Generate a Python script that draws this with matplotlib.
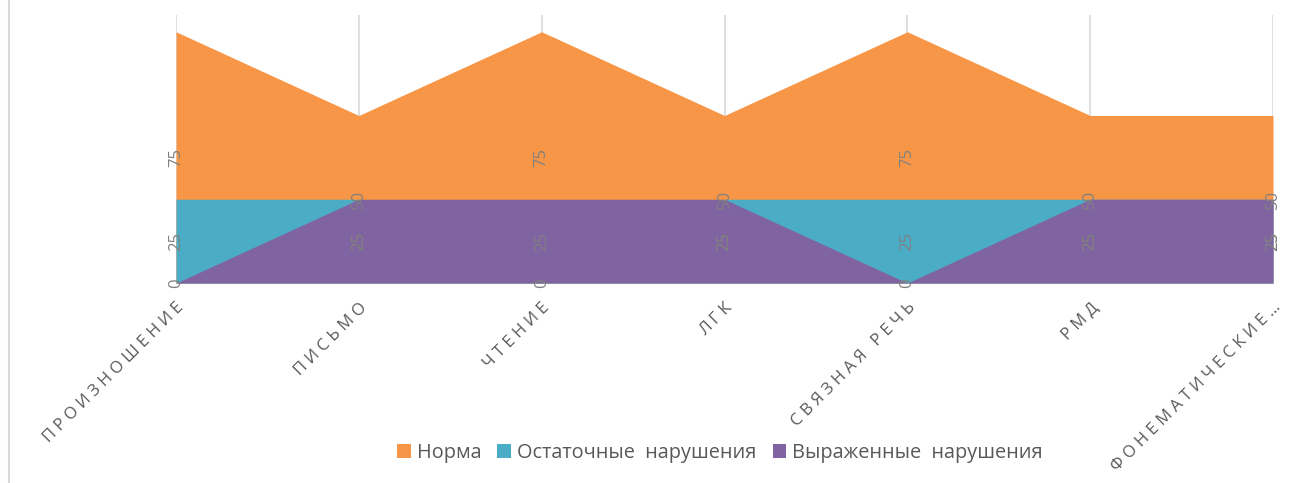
import matplotlib
matplotlib.use("Agg")
from matplotlib import pyplot as plt
from matplotlib.patches import Patch
from matplotlib.lines import Line2D

categorias = ["ПРОИЗНОШЕНИЕ", "ПИСЬМО", "ЧТЕНИЕ", "ЛГК", "СВЯЗНАЯ РЕЧЬ", "РМД", "ФОНЕМАТИЧЕСКИЕ…"]
norma = [75, 50, 75, 50, 75, 50, 50]
ostatochnye = [25, 25, 0, 25, 25, 25, 25]
vyrazhennye = [0, 25, 25, 25, 0, 25, 25]

series = [
    ("Норма", norma, "#F79646"),
    ("Остаточные  нарушения", ostatochnye, "#4BACC6"),
    ("Выраженные  нарушения", vyrazhennye, "#8064A2"),
]

plt.rcParams["font.family"] = ["Open Sans", "DejaVu Sans"]

fig = plt.figure(figsize=(13.11, 4.83), dpi=100)
ax = fig.add_axes([176 / 1311, 1 - 283 / 483, (1273 - 176) / 1311, (283 - 15) / 483])

x = list(range(len(categorias)))

# Áreas sobrepostas (não empilhadas), a última fica na frente
for nome, valores, cor in series:
    ax.fill_between(x, 0, valores, color=cor, linewidth=0, zorder=2)

# Rótulos de dados no meio de cada área
for nome, valores, cor in series:
    for xi, v in zip(x, valores):
        ax.text(xi, v / 2, str(v), rotation=90, ha="center", va="center",
                fontsize=12, color="#808080", zorder=5)

ax.set_xlim(0, len(categorias) - 1)
ax.set_ylim(0, 80)
ax.set_yticks([])

for xi in x:
    ax.axvline(xi, color="#D9D9D9", linewidth=1.2, zorder=1)

for lado in ["top", "left", "right"]:
    ax.spines[lado].set_visible(False)
ax.spines["bottom"].set_color("#D9D9D9")
ax.spines["bottom"].set_zorder(1)

# Espaçamento entre letras como no original
rotulos = ["\u2009\u200a".join(c) for c in categorias]
ax.set_xticks(x)
ax.set_xticklabels(rotulos, rotation=45, ha="right", va="top",
                   rotation_mode="anchor", fontsize=12, color="#595959")
ax.tick_params(axis="x", length=0, pad=12)

handles = [Patch(facecolor=cor, edgecolor="none") for nome, valores, cor in series]
fig.legend(handles, [s[0] for s in series], loc="center", bbox_to_anchor=(720 / 1311, 1 - 453 / 483),
           ncol=3, frameon=False, fontsize=14.3, labelcolor="#595959",
           handlelength=0.7, handleheight=0.7, handletextpad=0.3, columnspacing=0.8)

# Borda cinza à esquerda
fig.add_artist(Line2D([9 / 1311, 9 / 1311], [0, 1], color="#D9D9D9", linewidth=1.5))

plt.savefig("out.png", dpi=100)
